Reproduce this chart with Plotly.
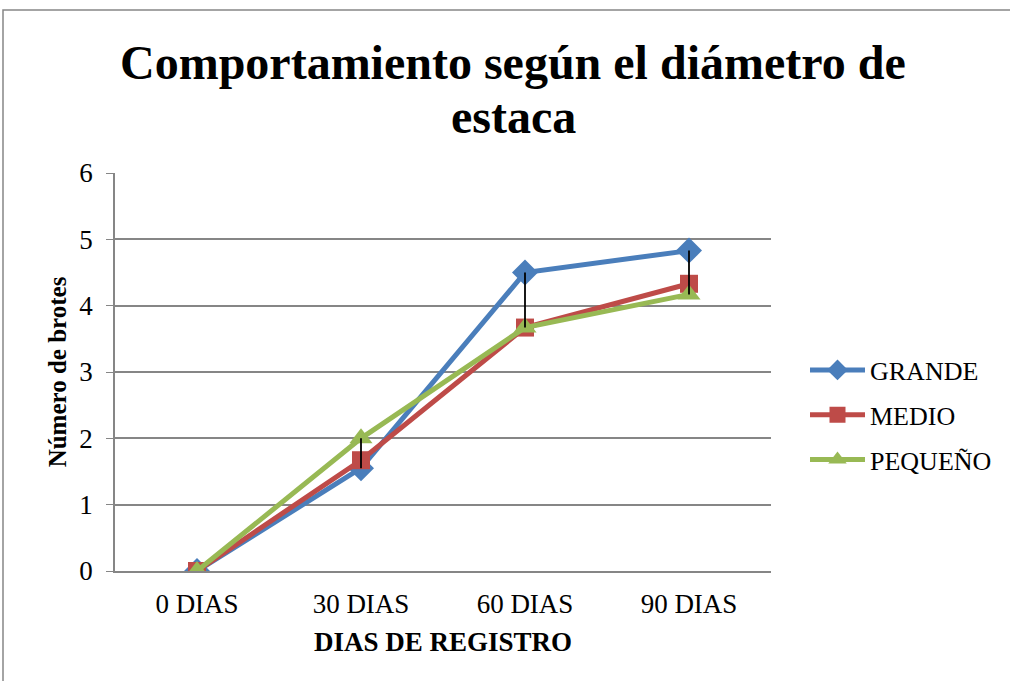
import plotly.graph_objects as go

categories = ["0 DIAS", "30 DIAS", "60 DIAS", "90 DIAS"]
grande = [0, 1.55, 4.5, 4.83]
medio = [0, 1.67, 3.67, 4.33]
pequeno = [0, 2.0, 3.67, 4.17]
series_names = ["GRANDE", "MEDIO", "PEQUEÑO"]
title_lines = ["Comportamiento según el diámetro de", "estaca"]
colors = ["#4A7EBB", "#BE4B48", "#98B954"]
symbols = ["diamond", "square", "triangle-up"]
marker_sizes = [20, 18, 20]

font = "Liberation Serif, Times New Roman, serif"
fig = go.Figure()
xs = list(range(len(categories)))
for k, (name, vals, col, sym, ms) in enumerate(zip(series_names, [grande, medio, pequeno], colors, symbols, marker_sizes)):
    fig.add_trace(go.Scatter(x=xs, y=vals, name=name, mode="lines+markers", legendgroup=f"g{k}",
                             line=dict(color=col, width=5),
                             marker=dict(symbol=sym, size=ms, color=col)))

# high-low lines
hx, hy = [], []
for i in xs:
    vals = [grande[i], medio[i], pequeno[i]]
    if max(vals) > min(vals):
        hx += [i, i, None]
        hy += [min(vals), max(vals), None]
fig.add_trace(go.Scatter(x=hx, y=hy, mode="lines", line=dict(color="black", width=1.8),
                         showlegend=False, hoverinfo="skip"))

W, H = 1010, 681
L, R, T, B = 115, 771, 173, 571
fig.update_layout(
    width=W, height=H,
    margin=dict(l=L, r=W - R, t=T, b=H - B),
    paper_bgcolor="white", plot_bgcolor="white",
    font=dict(family=font, color="black", size=26),
    legend=dict(x=(805 - L) / (R - L), xanchor="left", y=(B - 415) / (B - T), yanchor="middle",
                font=dict(size=26, family=font), itemwidth=55, tracegroupgap=8,
                traceorder="grouped"),
    showlegend=True,
    xaxis=dict(tickvals=xs, ticktext=categories, range=[-0.5, 3.5],
               showgrid=False, showline=True, linecolor="#868686", linewidth=1.5,
               ticks="", zeroline=False, tickfont=dict(size=27), ticklabelstandoff=8,
               title=dict(text="<b>DIAS DE REGISTRO</b>", font=dict(size=27, family=font), standoff=14)),
    yaxis=dict(range=[0, 6], dtick=1, showgrid=True, gridcolor="#868686", gridwidth=1.5,
               showline=True, linecolor="#868686", linewidth=1.5, ticks="outside",
               ticklen=7, tickcolor="#868686", zeroline=False, tickfont=dict(size=27),
               ticklabelstandoff=8,
               title=dict(text="<b>Número de brotes</b>", font=dict(size=25, family=font), standoff=6)),
)

# title as two lines
for txt, yc in zip(title_lines, [62, 116]):
    fig.add_annotation(text=f"<b>{txt}</b>", xref="paper", yref="paper",
                       x=(513 - L) / (R - L), y=(B - yc) / (B - T), xanchor="center", yanchor="middle",
                       showarrow=False, font=dict(size=48, family=font))

# outer chart border
fig.add_shape(type="rect", xref="paper", yref="paper",
              x0=(3 - L) / (R - L), x1=1.6, y0=-0.6, y1=(B - 10) / (B - T),
              line=dict(color="#868686", width=1.5), fillcolor="rgba(0,0,0,0)", layer="below")

fig.write_html("out.html", config={"displayModeBar": False},
               post_script="document.body.style.margin='0';")
